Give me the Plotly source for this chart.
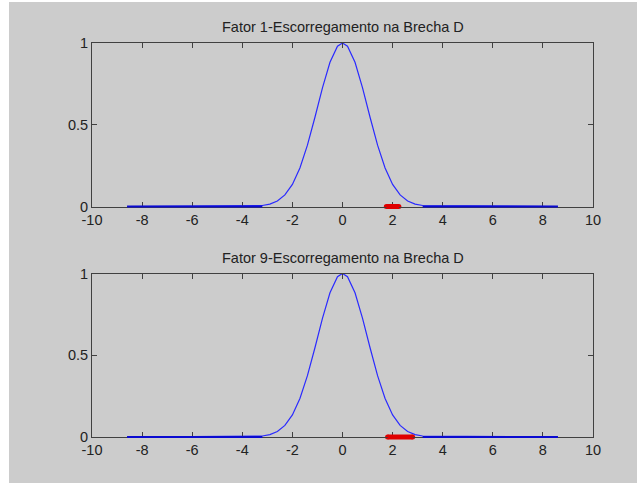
import plotly.graph_objects as go
from plotly.subplots import make_subplots

# Membership curve (same shape in both panels)
curve_x = [-8.6, -3.2, -2.9, -2.6, -2.3, -2.0, -1.7, -1.4, -1.1, -0.8, -0.5, -0.2, 0.0,
           0.2, 0.5, 0.8, 1.1, 1.4, 1.7, 2.0, 2.3, 2.6, 2.9, 3.2, 8.6]
curve_y = [0.0, 0.006, 0.015, 0.034, 0.071, 0.135, 0.236, 0.375, 0.546, 0.726, 0.882, 0.980, 1.0,
           0.980, 0.882, 0.726, 0.546, 0.375, 0.236, 0.135, 0.071, 0.034, 0.015, 0.006, 0.0]

titles = ["Fator 1-Escorregamento na Brecha D", "Fator 9-Escorregamento na Brecha D"]
red_x = [[1.75, 2.25], [1.8, 2.8]]
red_y = [[0, 0], [0, 0]]

x_ticks = [-10, -8, -6, -4, -2, 0, 2, 4, 6, 8, 10]
y_ticks = [0, 0.5, 1]
y_tick_labels = ["0", "0.5", "1"]

W, H = 637, 483
ml, mr, mt, mb = 92, 44, 43, 46
ph = H - mt - mb
pw = W - ml - mr
FONT = "Liberation Sans, Arial, sans-serif"

fig = make_subplots(rows=2, cols=1, vertical_spacing=(273 - 206) / ph)

for i in range(2):
    xa = "x" if i == 0 else "x2"
    ya = "y" if i == 0 else "y2"
    fig.add_trace(go.Scatter(x=curve_x, y=curve_y, mode="lines",
                             line=dict(color="#2a2aff", width=1.2),
                             hoverinfo="skip", showlegend=False),
                  row=i + 1, col=1)
    # flat tails of the curve lying on the axis (drawn unclipped)
    for a, b, yv in [(0, 1, curve_y[0]), (len(curve_x) - 2, len(curve_x) - 1, curve_y[-1])]:
        fig.add_shape(type="line", xref=xa, yref=ya + " domain",
                      x0=curve_x[a], x1=curve_x[b], y0=yv, y1=yv,
                      line=dict(color="#0a0ad0", width=2), layer="above")
    # red interval
    fig.add_shape(type="line", xref=xa, yref=ya + " domain",
                  x0=red_x[i][0], x1=red_x[i][1], y0=red_y[i][0], y1=red_y[i][1],
                  line=dict(color="#e00000", width=5), layer="above")
    fig.add_trace(go.Scatter(x=red_x[i], y=red_y[i], mode="markers",
                             marker=dict(color="#e00000", size=5, line=dict(width=0)),
                             cliponaxis=False, hoverinfo="skip", showlegend=False),
                  row=i + 1, col=1)

axis_common = dict(showline=True, linecolor="#404040", linewidth=1, mirror="ticks",
                   ticks="inside", ticklen=5, tickcolor="#404040", tickwidth=1,
                   showgrid=False, zeroline=False,
                   tickfont=dict(family=FONT, size=14.5, color="#222"))

for i in range(2):
    fig.update_xaxes(range=[-10, 10], tickvals=x_ticks, ticktext=[str(v) for v in x_ticks],
                     row=i + 1, col=1, **axis_common)
    fig.update_yaxes(range=[0, 1], tickvals=y_ticks, ticktext=y_tick_labels,
                     row=i + 1, col=1, **axis_common)

# gray MATLAB figure background with white strips on left/top
fig.add_shape(type="rect", xref="paper", yref="paper",
              x0=(9 - ml) / pw, x1=1.3, y0=-0.3, y1=(H - mb - 2) / ph,
              fillcolor="#cccccc", line=dict(width=0), layer="below")

title_y = [27, 258]
for i in range(2):
    fig.add_annotation(text=titles[i], xref="paper", yref="paper",
                       x=0.5, y=(H - mb - title_y[i]) / ph, xanchor="center", yanchor="middle",
                       showarrow=False,
                       font=dict(family=FONT, size=14.5, color="#222"))

fig.update_layout(width=W, height=H, margin=dict(l=ml, r=mr, t=mt, b=mb, pad=0),
                  paper_bgcolor="white", plot_bgcolor="white")

fig.write_html("out.html", config={"displayModeBar": False},
               post_script="document.body.style.margin='0';")
